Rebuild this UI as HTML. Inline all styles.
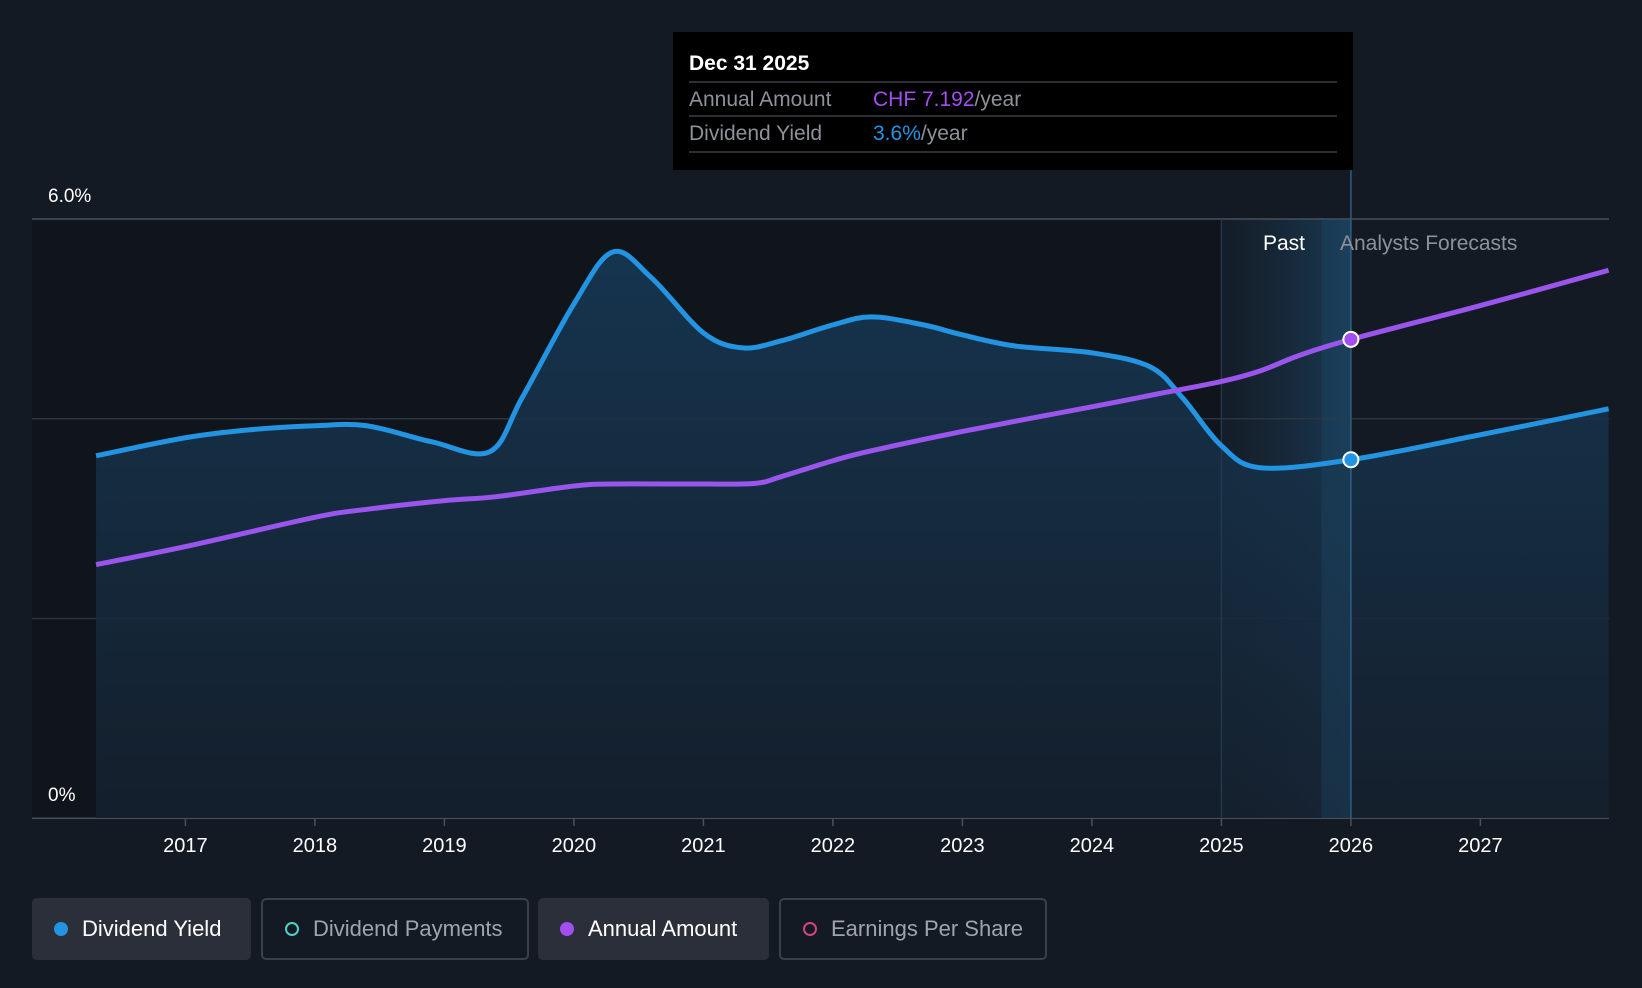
<!DOCTYPE html>
<html><head><meta charset="utf-8"><style>
body{margin:0;background:#141a24;width:1642px;height:988px;overflow:hidden;font-family:"Liberation Sans",sans-serif}
svg{position:absolute;left:0;top:0}
.leg{position:absolute;top:898px;height:62px;border-radius:5px;box-sizing:border-box;display:flex;align-items:center;font-size:22px}
.dot{width:14px;height:14px;border-radius:50%;margin:0 14px 0 22px;box-sizing:border-box}
</style></head><body>
<svg id="chart" width="1642" height="988"></svg>
<div class="leg" style="left:32px;width:219px;background:#2a2f3a;color:#fff"><div class="dot" style="background:#2394e1"></div>Dividend Yield</div>
<div class="leg" style="left:261px;width:268px;border:2px solid #3a3f4a;color:#a0a4ab"><div class="dot" style="border:2px solid #4fd1c5"></div>Dividend Payments</div>
<div class="leg" style="left:538px;width:231px;background:#2a2f3a;color:#fff"><div class="dot" style="background:#a24ef0"></div>Annual Amount</div>
<div class="leg" style="left:779px;width:268px;border:2px solid #3a3f4a;color:#a0a4ab"><div class="dot" style="border:2px solid #d0457f"></div>Earnings Per Share</div>
<script>
const yieldYears=[2016.31,2017,2017.5,2018,2018.4,2018.9,2019.35,2019.6,2020,2020.3,2020.6,2021,2021.3,2021.6,2022,2022.3,2022.7,2023,2023.4,2024,2024.45,2024.7,2025,2025.3,2026,2027,2027.99];
const yieldVals=[3.63,3.81,3.89,3.93,3.93,3.77,3.67,4.21,5.15,5.67,5.41,4.86,4.71,4.78,4.94,5.02,4.94,4.84,4.73,4.66,4.52,4.21,3.73,3.51,3.59,3.84,4.10];
const amtYears=[2016.31,2017,2018,2018.4,2019,2019.4,2020,2020.3,2021,2021.4,2021.6,2022,2022.3,2023,2024,2024.5,2025,2025.3,2025.6,2026,2027,2027.99];
const amtVals=[3.81,4.08,4.52,4.64,4.77,4.83,4.99,5.02,5.02,5.03,5.13,5.37,5.52,5.81,6.18,6.37,6.56,6.72,6.95,7.192,7.70,8.23];
const xTicks=[2017,2018,2019,2020,2021,2022,2023,2024,2025,2026,2027];
const yTickLabels=["0%","6.0%"];
const X=y=>185.4+(y-2017)*129.5;
const Y=v=>818.3-v/6*599.3;
const YA=v=>Y(v/1.5);
const s=document.getElementById('chart');const NS='http://www.w3.org/2000/svg';
function el(t,a,p){const e=document.createElementNS(NS,t);for(const k in a)e.setAttribute(k,a[k]);(p||s).appendChild(e);return e;}
function path(xs,ys){const p=xs.map((x,i)=>[x,ys[i]]);let d='M'+p[0][0]+','+p[0][1];
for(let i=0;i<p.length-1;i++){const p0=p[i-1]||p[i],p1=p[i],p2=p[i+1],p3=p[i+2]||p2;
d+=` C${p1[0]+(p2[0]-p0[0])/6},${p1[1]+(p2[1]-p0[1])/6} ${p2[0]-(p3[0]-p1[0])/6},${p2[1]-(p3[1]-p1[1])/6} ${p2[0]},${p2[1]}`;}return d;}
const defs=el('defs',{});
defs.innerHTML='<linearGradient id="fg" x1="0" y1="0" x2="0" y2="1"><stop offset="0" stop-color="#163a57"/><stop offset="1" stop-color="#15202e"/></linearGradient><linearGradient id="band" x1="0" y1="0" x2="1" y2="0"><stop offset="0" stop-color="#1a2a3a" stop-opacity="0.4"/><stop offset="1" stop-color="#1d4a6c" stop-opacity="0.7"/></linearGradient>';
let r=el('rect',{x:32,y:219,width:X(2026)-32,height:599,fill:'#10141b'});
r=el('rect',{x:X(2025),y:219,width:X(2026)-X(2025),height:599,fill:'url(#band)'});
[0,2,4,6].forEach(v=>{const g=el('line',{x1:32,x2:1609,y1:Y(v),y2:Y(v),stroke:v==0||v==6?'#4a505a':'#2c3440','stroke-width':1.5});});
const xs=yieldYears.map(X),ys=yieldVals.map(Y);
let f=el('path',{d:path(xs,ys)+` L${xs[xs.length-1]},818 L${xs[0]},818 Z`,fill:'url(#fg)','fill-opacity':0.85});
r=el('rect',{x:X(2025)+100,y:219,width:X(2026)-X(2025)-100,height:599,fill:'#1f4a6b','fill-opacity':0.35});
let l=el('line',{x1:X(2025),x2:X(2025),y1:219,y2:818,stroke:'#22384c','stroke-width':1.5});
l=el('line',{x1:X(2026),x2:X(2026),y1:170,y2:818,stroke:'#2e5f84','stroke-width':1.5});
let p=el('path',{d:path(xs,ys),fill:'none',stroke:'#2394e1','stroke-width':5});
p=el('path',{d:path(amtYears.map(X),amtVals.map(YA)),fill:'none',stroke:'#9a55ec','stroke-width':5});
let c=el('circle',{cx:X(2026),cy:YA(amtVals[amtYears.indexOf(2026)]),r:7.5,fill:'#a24ef0',stroke:'#fff','stroke-width':2});
c=el('circle',{cx:X(2026),cy:Y(yieldVals[yieldYears.indexOf(2026)]),r:7.5,fill:'#2394e1',stroke:'#fff','stroke-width':2});
xTicks.forEach(t=>{const k=el('line',{x1:X(t),x2:X(t),y1:818,y2:826,stroke:'#4a505a','stroke-width':1.5});
const tx=el('text',{x:X(t),y:852,fill:'#fff','font-size':20,'text-anchor':'middle'});tx.textContent=t;});
[[0,yTickLabels[0],801],[6,yTickLabels[1],202]].forEach(a=>{const tx=el('text',{x:48,y:a[2],fill:'#fff','font-size':19});tx.textContent=a[1];});
let t=el('text',{x:1284,y:250,fill:'#fff','font-size':21,'text-anchor':'middle'});t.textContent='Past';
t=el('text',{x:1340,y:250,fill:'#8d9299','font-size':21});t.textContent='Analysts Forecasts';
const tg=el('g',{});
el('rect',{x:673,y:32,width:680,height:138,fill:'#000'},tg);
[82,116,152].forEach(y=>el('line',{x1:689,x2:1337,y1:y,y2:y,stroke:'#3a3d42','stroke-width':1.5},tg));
tg.insertAdjacentHTML('beforeend','<text x="689" y="70" fill="#fff" font-size="21" font-weight="bold">Dec 31 2025</text><text x="689" y="106" fill="#8d9299" font-size="21">Annual Amount</text><text x="873" y="106" font-size="21" fill="#a24ef0">CHF 7.192<tspan fill="#8d9299">/year</tspan></text><text x="689" y="140" fill="#8d9299" font-size="21">Dividend Yield</text><text x="873" y="140" font-size="21" fill="#2394e1">3.6%<tspan fill="#8d9299">/year</tspan></text>');
</script></body></html>
